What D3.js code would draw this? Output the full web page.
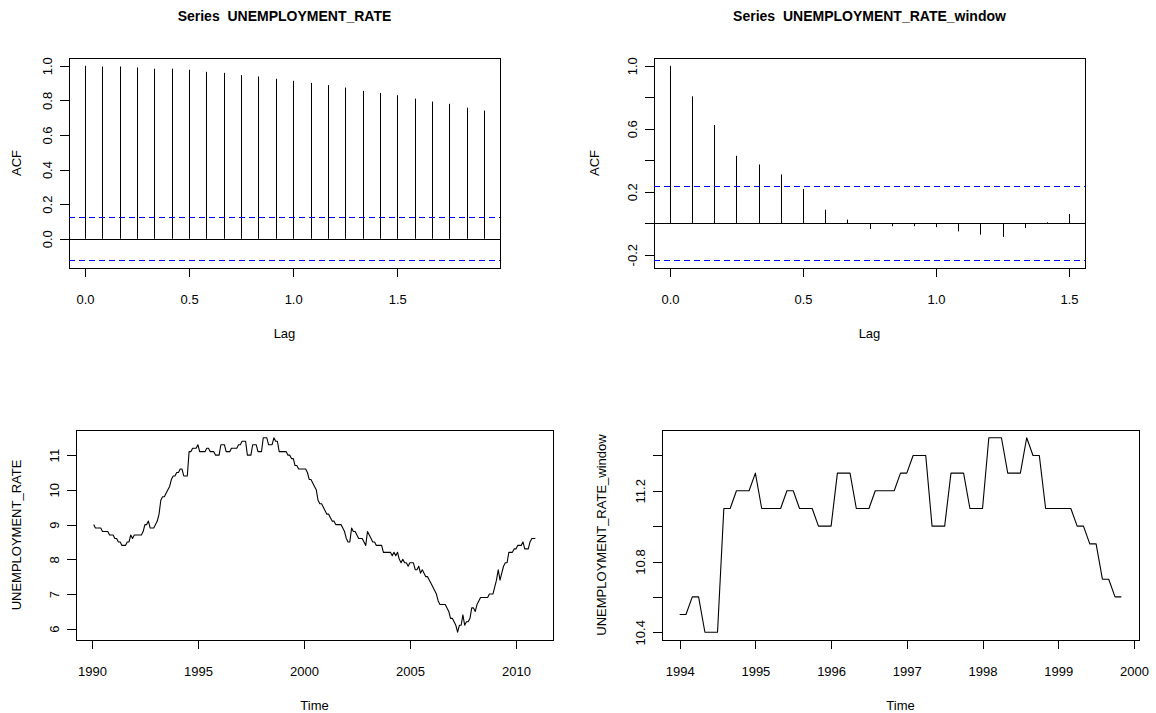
<!DOCTYPE html>
<html>
<head>
<meta charset="utf-8">
<script src="https://cdn.jsdelivr.net/npm/d3@7"></script>
<style>
 body { margin: 0; background: #fff; }
 svg { font-family: "Liberation Sans", Arial, Helvetica, sans-serif; }
 .axis path, .axis line { stroke: #000; shape-rendering: crispEdges; }
 .axis text { font-size: 13px; fill: #000; }
 .box { fill: none; stroke: #000; shape-rendering: crispEdges; }
 .title { font-size: 14px; font-weight: bold; }
 .lab { font-size: 13px; }
</style>
</head>
<body>
<svg width="1156" height="713"></svg>
<script>
// ACF of the full series, lags 0..23 months
const acfFull = [1.000, 0.996, 0.996, 0.990, 0.983, 0.983, 0.977, 0.965, 0.959, 0.946, 0.938, 0.925,
 0.913, 0.901, 0.888, 0.874, 0.855, 0.843, 0.830, 0.810, 0.793, 0.780, 0.758, 0.741];
// ACF of the 1994-1999 window, lags 0..18 months
const acfWindow = [1.000, 0.806, 0.624, 0.428, 0.373, 0.310, 0.217, 0.086, 0.023, -0.037, -0.019,
 -0.019, -0.025, -0.052, -0.073, -0.087, -0.031, 0.006, 0.059];
const ciFull = 0.124;
const ciWindow = 0.235;

// monthly unemployment rate, Feb 1990 .. Dec 2010
const rateStart = [1990, 2]; // year, month
const rate = [
 9.0, 8.9, 8.9, 8.9, 8.9, 8.8, 8.8, 8.8, 8.8, 8.7, 8.7,
 8.7, 8.6, 8.6, 8.5, 8.5, 8.4, 8.4, 8.4, 8.5, 8.5, 8.7, 8.6,
 8.7, 8.7, 8.7, 8.7, 8.7, 8.8, 9.0, 9.0, 9.1, 8.9, 8.9, 8.9,
 9.0, 9.1, 9.3, 9.7, 9.8, 9.8, 9.9, 10.0, 10.1, 10.3, 10.4, 10.4,
 10.5, 10.5, 10.6, 10.6, 10.4, 10.4, 10.4, 11.1, 11.1, 11.2, 11.2, 11.2,
 11.3, 11.1, 11.1, 11.1, 11.1, 11.2, 11.2, 11.1, 11.1, 11.1, 11.0, 11.0,
 11.0, 11.3, 11.3, 11.3, 11.1, 11.1, 11.1, 11.2, 11.2, 11.2, 11.2, 11.3,
 11.3, 11.4, 11.4, 11.4, 11.0, 11.0, 11.0, 11.3, 11.3, 11.3, 11.1, 11.1,
 11.1, 11.5, 11.5, 11.5, 11.3, 11.3, 11.3, 11.5, 11.4, 11.4, 11.1, 11.1,
 11.1, 11.1, 11.1, 11.0, 11.0, 10.9, 10.9, 10.7, 10.7, 10.6, 10.6, 10.6,
 10.6, 10.6, 10.5, 10.3, 10.3, 10.2, 10.1, 10.0, 9.7, 9.6, 9.6, 9.5,
 9.4, 9.3, 9.3, 9.2, 9.1, 9.1, 9.0, 9.0, 9.0, 9.0, 8.9, 8.8,
 8.6, 8.5, 8.5, 8.9, 8.8, 8.8, 8.7, 8.6, 8.6, 8.6, 8.5, 8.4,
 8.8, 8.7, 8.6, 8.5, 8.5, 8.4, 8.4, 8.4, 8.4, 8.2, 8.2, 8.2,
 8.2, 8.2, 8.1, 8.2, 8.1, 8.2, 8.0, 7.9, 8.0, 7.9, 7.9, 7.8,
 7.9, 7.9, 7.9, 7.7, 7.7, 7.8, 7.6, 7.7, 7.6, 7.5, 7.5, 7.4,
 7.3, 7.2, 7.1, 7.0, 6.8, 6.7, 6.7, 6.7, 6.7, 6.6, 6.5, 6.3,
 6.3, 6.2, 6.1, 5.9, 6.1, 6.1, 6.4, 6.1, 6.2, 6.2, 6.3, 6.6,
 6.6, 6.5, 6.7, 6.8, 6.9, 6.9, 6.9, 6.9, 6.9, 7.0, 7.0, 7.0,
 7.2, 7.4, 7.7, 7.4, 7.6, 7.8, 7.9, 7.9, 8.2, 8.2, 8.2, 8.3,
 8.3, 8.4, 8.4, 8.4, 8.5, 8.3, 8.3, 8.3, 8.5, 8.6, 8.6, 8.6
];

// window Jan 1994 .. Nov 1999
const windowStart = [1994, 1];
const rateWindow = [
 10.5, 10.5, 10.6, 10.6, 10.4, 10.4, 10.4, 11.1, 11.1, 11.2, 11.2, 11.2,
 11.3, 11.1, 11.1, 11.1, 11.1, 11.2, 11.2, 11.1, 11.1, 11.1, 11.0, 11.0,
 11.0, 11.3, 11.3, 11.3, 11.1, 11.1, 11.1, 11.2, 11.2, 11.2, 11.2, 11.3,
 11.3, 11.4, 11.4, 11.4, 11.0, 11.0, 11.0, 11.3, 11.3, 11.3, 11.1, 11.1,
 11.1, 11.5, 11.5, 11.5, 11.3, 11.3, 11.3, 11.5, 11.4, 11.4, 11.1, 11.1,
 11.1, 11.1, 11.1, 11.0, 11.0, 10.9, 10.9, 10.7, 10.7, 10.6, 10.6
];

// tick values and labels
const lagTicks = [0, 0.5, 1, 1.5];
const lagLabels = ["0.0", "0.5", "1.0", "1.5"];
const acfFullTicks = [0, 0.2, 0.4, 0.6, 0.8, 1];
const acfFullLabels = ["0.0", "0.2", "0.4", "0.6", "0.8", "1.0"];
const acfWinTicks = [-0.2, 0, 0.2, 0.4, 0.6, 0.8, 1];
const acfWinLabels = ["-0.2", "", "0.2", "", "0.6", "", "1.0"];
const yearTicks = [1990, 1995, 2000, 2005, 2010];
const rateTicks = [6, 7, 8, 9, 10, 11];
const winYearTicks = [1994, 1995, 1996, 1997, 1998, 1999, 2000];
const winRateTicks = [10.4, 10.6, 10.8, 11.0, 11.2, 11.4];
const winRateLabels = ["10.4", "", "10.8", "", "11.2", ""];

const svg = d3.select("svg");

// R style 4% padding on each side
const pad = ([a, b]) => [a - 0.04 * (b - a), b + 0.04 * (b - a)];

function frame(p, x, y, xt, xl, yt, yl, title, xlab, ylab) {
 const g = svg.append("g");

 g.append("g")
  .attr("class", "axis")
  .attr("transform", `translate(0,${p.y1})`)
  .call(d3.axisBottom(x).tickValues(xt).tickSize(9).tickSizeOuter(0)
   .tickFormat((d, i) => xl[i]))
  .selectAll("text")
  .attr("y", 31)
  .attr("dy", "0.35em");

 g.append("g")
  .attr("class", "axis")
  .attr("transform", `translate(${p.x0},0)`)
  .call(d3.axisLeft(y).tickValues(yt).tickSize(9).tickSizeOuter(0)
   .tickFormat((d, i) => yl[i]))
  .selectAll("text")
  .attr("transform", "rotate(-90)")
  .attr("text-anchor", "middle")
  .attr("x", 0)
  .attr("y", -22)
  .attr("dy", "0.35em");

 g.append("rect")
  .attr("class", "box")
  .attr("x", p.x0 + 0.5)
  .attr("y", p.y0 + 0.5)
  .attr("width", p.x1 - p.x0)
  .attr("height", p.y1 - p.y0);

 if (title) {
  g.append("text")
   .attr("class", "title")
   .attr("x", (p.x0 + p.x1) / 2)
   .attr("y", 21)
   .attr("text-anchor", "middle")
   .attr("xml:space", "preserve")
   .style("white-space", "pre")
   .text(title);
 }

 g.append("text")
  .attr("class", "lab")
  .attr("x", (p.x0 + p.x1) / 2)
  .attr("y", p.y1 + 65)
  .attr("dy", "0.35em")
  .attr("text-anchor", "middle")
  .text(xlab);

 g.append("text")
  .attr("class", "lab")
  .attr("transform", `translate(${p.ylabX},${(p.y0 + p.y1) / 2}) rotate(-90)`)
  .attr("dy", "0.35em")
  .attr("text-anchor", "middle")
  .text(ylab);

 return g;
}

function acfPanel(p, acf, ci, yt, yl, title) {
 const lags = acf.map((v, i) => i / 12);
 const x = d3.scaleLinear().domain(pad(d3.extent(lags))).range([p.x0, p.x1]);
 const y = d3.scaleLinear()
  .domain(pad([Math.min(d3.min(acf), -ci), Math.max(d3.max(acf), ci)]))
  .range([p.y1, p.y0]);

 const g = frame(p, x, y, lagTicks, lagLabels, yt, yl, title, "Lag", "ACF");

 g.selectAll(".bar")
  .data(acf)
  .enter()
  .append("line")
  .attr("x1", (d, i) => Math.round(x(lags[i])) + 0.5)
  .attr("x2", (d, i) => Math.round(x(lags[i])) + 0.5)
  .attr("y1", y(0))
  .attr("y2", d => y(d))
  .attr("stroke", "#000")
  .attr("stroke-width", 1);

 g.append("line")
  .attr("x1", p.x0).attr("x2", p.x1)
  .attr("y1", Math.round(y(0)) + 0.5).attr("y2", Math.round(y(0)) + 0.5)
  .attr("stroke", "#000");

 g.selectAll(".ci")
  .data([ci, -ci])
  .enter()
  .append("line")
  .attr("x1", p.x0).attr("x2", p.x1)
  .attr("y1", d => Math.round(y(d)) + 0.5)
  .attr("y2", d => Math.round(y(d)) + 0.5)
  .attr("stroke", "#0000ff")
  .attr("stroke-dasharray", "6,4");
}

function tsPanel(p, values, start, xt, yt, yl, ylab) {
 const pts = values.map((v, i) => ({ t: start[0] + (start[1] - 1 + i) / 12, v: v }));
 const x = d3.scaleLinear().domain(pad(d3.extent(pts, d => d.t))).range([p.x0, p.x1]);
 const y = d3.scaleLinear().domain(pad(d3.extent(pts, d => d.v))).range([p.y1, p.y0]);

 const g = frame(p, x, y, xt, xt.map(String), yt, yl, null, "Time", ylab);

 g.append("path")
  .datum(pts)
  .attr("fill", "none")
  .attr("stroke", "#000")
  .attr("stroke-width", 1.1)
  .attr("stroke-linejoin", "round")
  .attr("d", d3.line().x(d => x(d.t)).y(d => y(d.v)));
}

acfPanel({ x0: 69, x1: 500, y0: 58, y1: 268, ylabX: 16 },
 acfFull, ciFull, acfFullTicks, acfFullLabels, "Series  UNEMPLOYMENT_RATE");
acfPanel({ x0: 654, x1: 1085, y0: 58, y1: 268, ylabX: 594 },
 acfWindow, ciWindow, acfWinTicks, acfWinLabels, "Series  UNEMPLOYMENT_RATE_window");
tsPanel({ x0: 76, x1: 553, y0: 430, y1: 640, ylabX: 16 },
 rate, rateStart, yearTicks, rateTicks, rateTicks.map(String), "UNEMPLOYMENT_RATE");
tsPanel({ x0: 662, x1: 1139, y0: 430, y1: 640, ylabX: 601 },
 rateWindow, windowStart, winYearTicks, winRateTicks, winRateLabels, "UNEMPLOYMENT_RATE_window");
</script>
</body>
</html>
